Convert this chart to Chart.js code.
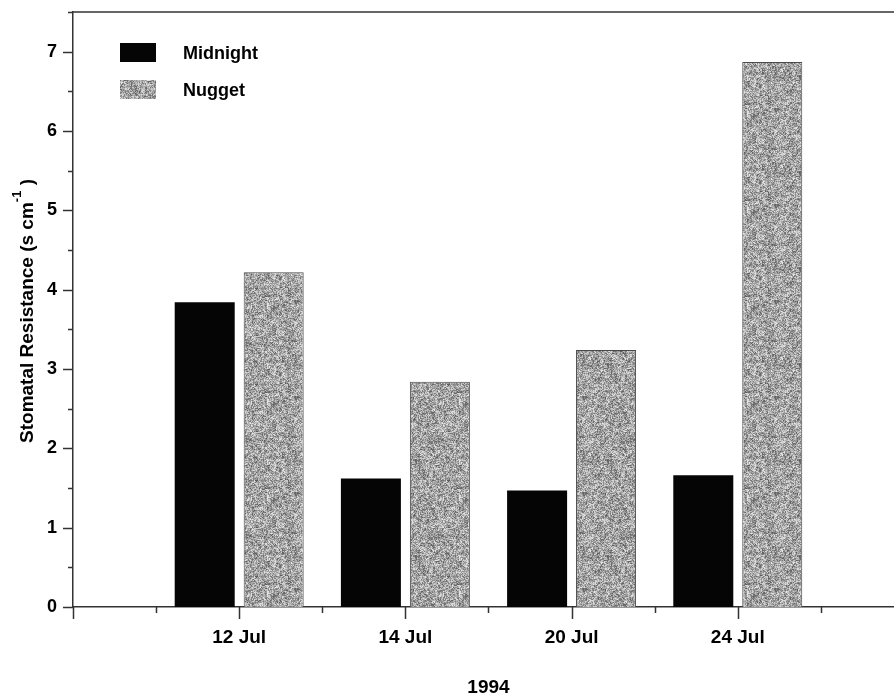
<!DOCTYPE html>
<html>
<head>
<meta charset="utf-8">
<script src="https://cdn.jsdelivr.net/npm/chart.js@4"></script>
<style>
  body { margin: 0; background: #fff; }
  #wrap { width: 894px; height: 696px; }
</style>
</head>
<body>
<div id="wrap"><canvas id="resChart" width="894" height="696"></canvas></div>
<script>
// sampling dates (1994) and where they sit on the x axis
const dates = ["12 Jul", "14 Jul", "20 Jul", "24 Jul"];
const datePos = [1, 2, 3, 4];
// stomatal resistance, s cm-1
const midnight = [3.84, 1.62, 1.47, 1.66];
const nugget = [4.22, 2.84, 3.24, 6.87];
const yTicks = [0, 1, 2, 3, 4, 5, 6, 7];

const FONT = "'Liberation Sans', Arial, sans-serif";

function hash(i, j) {
    const h = Math.sin(i * 12.9898 + j * 78.233) * 43758.5453;
    return h - Math.floor(h);
}

// grainy grey fill for the Nugget bars: fine speckle plus a coarser mottle
function grainPattern() {
    const c = document.createElement("canvas");
    c.width = 96; c.height = 96;
    const g = c.getContext("2d");
    const img = g.createImageData(96, 96);
    for (let j = 0; j < 96; j++) {
        for (let i = 0; i < 96; i++) {
            const fine = hash(i, j);
            const coarse = hash(Math.floor(i / 3) + 101, Math.floor(j / 3) + 37);
            const v = Math.round(85 + fine * 105 + coarse * 50);
            const k = (j * 96 + i) * 4;
            img.data[k] = img.data[k + 1] = img.data[k + 2] = v;
            img.data[k + 3] = 255;
        }
    }
    g.putImageData(img, 0, 0);
    return g.createPattern(c, "repeat");
}
const grain = grainPattern();

const pts = vals => vals.map((v, i) => ({ x: datePos[i], y: v }));

// tick marks, frame, legend, axis titles
const decorations = {
    id: "decorations",
    afterDraw(chart) {
        const ctx = chart.ctx;
        const area = chart.chartArea;
        const xs = chart.scales.x, ys = chart.scales.y;
        ctx.save();
        ctx.strokeStyle = "#333";
        ctx.lineWidth = 1.5;

        // top frame line
        ctx.beginPath();
        ctx.moveTo(area.left, area.top);
        ctx.lineTo(area.right, area.top);
        ctx.stroke();

        ctx.beginPath();
        ys.ticks.forEach(t => {
            const y = Math.round(ys.getPixelForValue(t.value)) + 0.5;
            const len = Number.isInteger(t.value) ? 10 : 5;
            ctx.moveTo(area.left, y);
            ctx.lineTo(area.left - len, y);
        });
        xs.ticks.forEach(t => {
            const x = Math.round(xs.getPixelForValue(t.value)) + 0.5;
            ctx.moveTo(x, area.bottom);
            ctx.lineTo(x, area.bottom + 12);
            // minor tick halfway to the next one
            const xm = xs.getPixelForValue(t.value + 0.5);
            if (xm < area.right) {
                const m = Math.round(xm) + 0.5;
                ctx.moveTo(m, area.bottom);
                ctx.lineTo(m, area.bottom + 6);
            }
        });
        ctx.stroke();

        // legend
        ctx.textBaseline = "middle";
        ctx.textAlign = "left";
        ctx.font = "bold 18px " + FONT;
        chart.data.datasets.forEach((ds, i) => {
            const top = 43 + i * 37;
            ctx.fillStyle = ds.backgroundColor;
            ctx.fillRect(120, top, 36, 19);
            ctx.fillStyle = "#000";
            ctx.fillText(ds.label, 183, top + 11);
        });

        // x title
        ctx.textAlign = "center";
        ctx.font = "bold 19px " + FONT;
        ctx.fillText("1994", (area.left + area.right) / 2 + 5, 688);

        // y title with superscript
        ctx.translate(33, 311);
        ctx.rotate(-Math.PI / 2);
        ctx.textBaseline = "alphabetic";
        ctx.textAlign = "left";
        const main = "Stomatal Resistance (s cm";
        const sup = "-1";
        const tail = " )";
        const fMain = "bold 19px " + FONT, fSup = "bold 13px " + FONT;
        ctx.font = fMain;
        const wMain = ctx.measureText(main).width;
        const wTail = ctx.measureText(tail).width;
        ctx.font = fSup;
        const wSup = ctx.measureText(sup).width;
        let x0 = -(wMain + wSup + wTail) / 2;
        ctx.font = fMain;
        ctx.fillText(main, x0, 0);
        ctx.font = fSup;
        ctx.fillText(sup, x0 + wMain, -12);
        ctx.font = fMain;
        ctx.fillText(tail, x0 + wMain + wSup, 0);
        ctx.restore();
    }
};

new Chart(document.getElementById("resChart"), {
    type: "bar",
    data: {
        datasets: [{
            label: "Midnight",
            data: pts(midnight),
            backgroundColor: "#050505",
            borderColor: "#050505",
            borderWidth: 0
        }, {
            label: "Nugget",
            data: pts(nugget),
            backgroundColor: grain,
            borderColor: "#4a4a4a",
            borderWidth: 1
        }]
    },
    options: {
        responsive: false,
        animation: false,
        categoryPercentage: 0.83,
        barPercentage: 0.87,
        layout: { padding: { top: 12, right: 0, left: 0, bottom: 0 } },
        plugins: {
            legend: { display: false },
            tooltip: { enabled: false }
        },
        scales: {
            x: {
                type: "linear",
                offset: false,
                min: 0,
                max: 4.94,
                grid: { display: false, offset: false, drawTicks: false },
                border: { display: true, color: "#333", width: 1.5 },
                afterFit: s => {
                    s.height = 89;
                    s.paddingLeft = 0;
                    s.paddingRight = 0;
                },
                ticks: {
                    stepSize: 1,
                    includeBounds: false,
                    autoSkip: false,
                    maxRotation: 0,
                    padding: 19,
                    color: "#000",
                    font: { family: FONT, size: 19, weight: "bold" },
                    callback: v => {
                        const i = datePos.indexOf(v);
                        return i >= 0 ? dates[i] : "";
                    }
                }
            },
            y: {
                min: 0,
                max: 7.5,
                grid: { display: false, drawTicks: false },
                border: { display: true, color: "#333", width: 1.5 },
                afterFit: s => {
                    s.width = 73;
                    s.paddingTop = 0;
                    s.paddingBottom = 0;
                },
                ticks: {
                    stepSize: 0.5,
                    includeBounds: false,
                    autoSkip: false,
                    padding: 16,
                    color: "#000",
                    font: { family: FONT, size: 18, weight: "bold" },
                    callback: v => yTicks.includes(v) ? v : ""
                }
            }
        }
    },
    plugins: [decorations]
});
</script>
</body>
</html>
